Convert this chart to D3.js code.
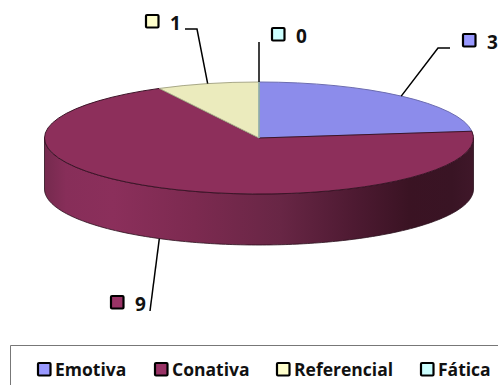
<!DOCTYPE html>
<html>
<head>
<meta charset="utf-8">
<script src="https://d3js.org/d3.v7.min.js"></script>
<style>
    html, body { margin: 0; padding: 0; background: #fff; overflow: hidden; }
    text { font-family: "Open Sans", Lato, sans-serif; font-weight: 700; fill: #111; }
</style>
</head>
<body>
<script>
"use strict";

let categories = ["Emotiva", "Conativa", "Referencial", "Fática"];
let values = [3, 9, 1, 0];
let swatch_colors = ["#9999ff", "#993366", "#ffffcc", "#ccffff"];
let top_colors = ["#8c8ceb", "#8d2f5b", "#ebebbd", "#bfeeee"];
let edge_colors = ["#6c6cb0", "#3d1428", "#a8a888", "#8fb0b0"];

let width = 498, height = 385;
let cx = 259, cy = 138, rx = 214.5, ry = 56, depth = 51;

// where each value label sits, and the elbows of its leader line
let label_pos = [
    {sx: 462, sy: 33, tx: 487, ty: 49, leader: [[450, 48], [438, 48]]},
    {sx: 110, sy: 295, tx: 135, ty: 311, leader: [[150, 311]]},
    {sx: 145, sy: 14, tx: 170, ty: 30, leader: [[185, 29], [197, 29]]},
    {sx: 271, sy: 27, tx: 296, ty: 43, leader: [[259, 42]]}
];
let legend_x = [37, 154, 276, 420];

let svg = d3.select("body").append("svg")
    .attr("width", width).attr("height", height)
    .style("display", "block");

// horizontal shading along the pie's outer wall
let wall_stops = [
    [0, "#752a4e"], [0.05, "#872e59"], [0.16, "#8b2f5b"], [0.35, "#7c2a50"],
    [0.55, "#682645"], [0.72, "#4e1a32"], [0.85, "#3a1323"], [0.95, "#391424"], [1, "#3f1729"]
];
let gradient = svg.append("defs").append("linearGradient")
    .attr("id", "wall")
    .attr("gradientUnits", "userSpaceOnUse")
    .attr("x1", cx - rx).attr("x2", cx + rx).attr("y1", 0).attr("y2", 0);
gradient.selectAll("stop").data(wall_stops).join("stop")
    .attr("offset", d => d[0]).attr("stop-color", d => d[1]);

let pie = d3.pie().sort(null).value(d => d);
let slices = pie(values);

let px = a => cx + rx * Math.sin(a);
let py = a => cy - ry * Math.cos(a);

// front wall, lower half of the ellipse
let wall_angles = d3.range(0, 181).map(i => Math.PI / 2 + i * Math.PI / 180);
let wall = d3.area()
    .x(a => px(a))
    .y0(a => py(a))
    .y1(a => py(a) + depth);
svg.append("path")
    .attr("d", wall(wall_angles))
    .attr("fill", "url(#wall)")
    .attr("stroke", "#2a0f1c")
    .attr("stroke-width", 0.8);

// top face: circular arcs squashed into an ellipse
let arc = d3.arc().innerRadius(0).outerRadius(rx);
svg.append("g")
    .attr("transform", `translate(${cx},${cy}) scale(1,${ry / rx})`)
    .selectAll("path")
    .data(slices)
    .join("path")
    .attr("d", arc)
    .attr("fill", (d, i) => top_colors[i])
    .attr("stroke", (d, i) => edge_colors[i])
    .attr("stroke-width", 1)
    .attr("vector-effect", "non-scaling-stroke");

// leader lines run from the slice's middle to the label
let line = d3.line();
slices.forEach((d, i) => {
    let a = (d.startAngle + d.endAngle) / 2;
    if (d.value == 0) a = d.startAngle;
    let on_front = Math.cos(a) < 0;
    let anchor = [px(a), py(a) + (on_front ? depth : 0)];
    svg.append("path")
        .attr("d", line([...label_pos[i].leader, anchor]))
        .attr("fill", "none")
        .attr("stroke", "#000")
        .attr("stroke-width", 1.5);
});

function draw_swatch(x, y, color) {
    svg.append("rect")
        .attr("x", x + 1).attr("y", y + 1)
        .attr("width", 12.5).attr("height", 12.5)
        .attr("rx", 1)
        .attr("fill", color)
        .attr("stroke", "#000")
        .attr("stroke-width", 2.2);
}

values.forEach((v, i) => {
    let p = label_pos[i];
    draw_swatch(p.sx, p.sy, swatch_colors[i]);
    svg.append("text")
        .attr("x", p.tx).attr("y", p.ty)
        .attr("font-size", 19)
        .text(v);
});

// legend box, open along the bottom and right of the page
svg.append("path")
    .attr("d", line([[10.5, height], [10.5, 345.5], [width, 345.5]]))
    .attr("fill", "none")
    .attr("stroke", "#777")
    .attr("stroke-width", 1);

categories.forEach((c, i) => {
    draw_swatch(legend_x[i], 362, swatch_colors[i]);
    svg.append("text")
        .attr("x", legend_x[i] + 18).attr("y", 376)
        .attr("font-size", 17.5)
        .text(c);
});
</script>
</body>
</html>
